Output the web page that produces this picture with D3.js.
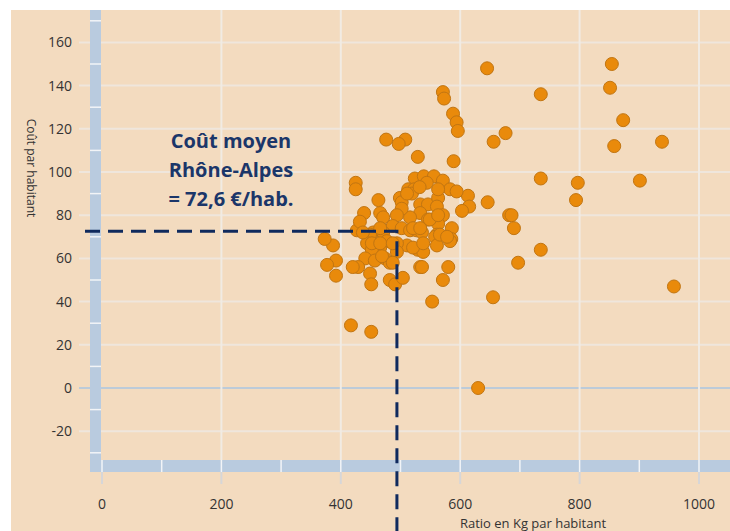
<!DOCTYPE html>
<html>
<head>
<meta charset="utf-8">
<script src="https://cdn.jsdelivr.net/npm/d3@7"></script>
<style>
  body { margin: 0; background: #fff; }
  svg { display: block; }
  text { font-family: "Open Sans", sans-serif; }
</style>
</head>
<body>
<script>
// Ratio en Kg par habitant (x) / Coût par habitant (y)
var ratio = [854, 851, 873, 858, 938, 901, 797, 794, 735, 735, 735, 958, 697, 690, 682, 686, 646, 645, 676, 656,
             655, 630, 571, 573, 588, 594, 596, 476, 508, 497, 529, 589, 425, 425, 463, 439, 613, 615, 603, 524,
             539, 556, 571, 583, 594, 513, 523, 519, 544, 499, 502, 533, 546, 563, 561, 571, 533, 516, 546, 563,
             502, 494, 466, 471, 487, 502, 516, 527, 586, 561, 536, 454, 427, 449, 471, 585, 558, 561, 511, 529,
             538, 494, 477, 466, 444, 452, 441, 457, 474, 482, 494, 429, 420, 387, 373, 392, 377, 392, 449, 451,
             482, 491, 504, 533, 580, 571, 553, 417, 451, 532, 511, 521, 533, 466, 432, 437, 452, 466, 487, 521,
             469, 487, 538, 583, 536, 566, 578, 549, 563, 563];
var cout  = [150, 139, 124, 112, 114, 96, 95, 87, 136, 97, 64, 47, 58, 74, 80, 80, 86, 148, 118, 114,
             42, 0, 137, 134, 127, 123, 119, 115, 115, 113, 107, 105, 95, 92, 87, 81, 89, 84, 82, 97,
             98, 98, 96, 92, 91, 92, 92, 90, 95, 88, 86, 85, 85, 88, 84, 80, 81, 79, 78, 76,
             83, 80, 81, 79, 75, 74, 73, 73, 74, 71, 72, 72, 73, 71, 72, 69, 70, 66, 66, 64,
             63, 67, 68, 65, 67, 64, 60, 59, 60, 58, 63, 56, 56, 66, 69, 59, 57, 52, 53, 48,
             50, 48, 51, 56, 56, 50, 40, 29, 26, 93, 90, 74, 74, 74, 77, 72, 67, 67, 67, 65,
             61, 58, 67, 68, 56, 71, 70, 78, 80, 92];

var yTicks = [-20, 0, 20, 40, 60, 80, 100, 120, 140, 160];
var xTicks = [0, 200, 400, 600, 800, 1000];
var meanCout = 72.6, meanRatio = 494;
var noteLines = ["Coût moyen", "Rhône-Alpes", "= 72,6 €/hab."];

var width = 730, height = 531;
var plotL = 101, plotR = 730, plotT = 10, plotB = 460;

var x = d3.scaleLinear().domain([0, 1000]).range([102, 699]);
var y = d3.scaleLinear().domain([0, 160]).range([388, 42.4]);

var svg = d3.select("body").append("svg")
    .attr("width", width)
    .attr("height", height);

// peach background
svg.append("rect")
    .attr("x", 11).attr("y", 10)
    .attr("width", width - 11).attr("height", height - 10)
    .attr("fill", "#f3dbbf");

svg.append("clipPath").attr("id", "plot")
  .append("rect")
    .attr("x", plotL).attr("y", plotT)
    .attr("width", plotR - plotL).attr("height", plotB - plotT);

// gridlines
svg.append("g").selectAll("line")
    .data(yTicks)
    .enter().append("line")
    .attr("x1", 79).attr("x2", plotR)
    .attr("y1", function(d) { return y(d); })
    .attr("y2", function(d) { return y(d); })
    .attr("stroke", function(d) { return d === 0 ? "#bccbd9" : "#efe6dc"; })
    .attr("stroke-width", 2);

svg.append("g").selectAll("line")
    .data(xTicks.filter(function(d) { return d > 0; }))
    .enter().append("line")
    .attr("y1", plotT).attr("y2", plotB)
    .attr("x1", function(d) { return x(d); })
    .attr("x2", function(d) { return x(d); })
    .attr("stroke", "#f1ebe3")
    .attr("stroke-width", 2);

// tick marks outside bands
svg.append("g").selectAll("line")
    .data(xTicks)
    .enter().append("line")
    .attr("y1", 472).attr("y2", 484)
    .attr("x1", function(d) { return x(d); })
    .attr("x2", function(d) { return x(d); })
    .attr("stroke", "#d6d6d8")
    .attr("stroke-width", 2);

// axis bands
svg.append("rect")
    .attr("x", 90).attr("y", plotT)
    .attr("width", 11).attr("height", 472 - plotT)
    .attr("fill", "#b9cbdf");
svg.append("rect")
    .attr("x", 90).attr("y", plotB)
    .attr("width", width - 90).attr("height", 12)
    .attr("fill", "#b9cbdf");

// notches in bands
svg.append("g").selectAll("line")
    .data(d3.range(-30, 180, 20))
    .enter().append("line")
    .attr("x1", 90).attr("x2", 101)
    .attr("y1", function(d) { return y(d); })
    .attr("y2", function(d) { return y(d); })
    .attr("stroke", "#f2f4f7")
    .attr("stroke-width", 1.5);

svg.append("g").selectAll("line")
    .data(d3.range(0, 1100, 100))
    .enter().append("line")
    .attr("y1", plotB).attr("y2", 472)
    .attr("x1", function(d) { return x(d); })
    .attr("x2", function(d) { return x(d); })
    .attr("stroke", "#f2f4f7")
    .attr("stroke-width", 1.5);

// tick labels
svg.append("g").selectAll("text")
    .data(yTicks)
    .enter().append("text")
    .attr("x", 72)
    .attr("y", function(d) { return y(d) + 5; })
    .attr("text-anchor", "end")
    .attr("font-size", 14)
    .attr("fill", "#333")
    .text(function(d) { return d; });

svg.append("g").selectAll("text")
    .data(xTicks)
    .enter().append("text")
    .attr("x", function(d) { return x(d); })
    .attr("y", 509)
    .attr("text-anchor", "middle")
    .attr("font-size", 14)
    .attr("fill", "#333")
    .text(function(d) { return d; });

// axis titles
svg.append("text")
    .attr("transform", "translate(27,168) rotate(90)")
    .attr("text-anchor", "middle")
    .attr("font-size", 12)
    .attr("fill", "#333")
    .text("Coût par habitant");

svg.append("text")
    .attr("x", 533).attr("y", 528)
    .attr("text-anchor", "middle")
    .attr("font-size", 13)
    .attr("fill", "#333")
    .text("Ratio en Kg par habitant");

// points
svg.append("g")
    .attr("clip-path", "url(#plot)")
    .selectAll("circle")
    .data(ratio)
    .enter().append("circle")
    .attr("cx", function(d) { return x(d); })
    .attr("cy", function(d, i) { return y(cout[i]); })
    .attr("r", 6.5)
    .attr("fill", "#e98a0b")
    .attr("stroke", "#c17512")
    .attr("stroke-width", 1);

// average lines
var mx = x(meanRatio), my = y(meanCout);
svg.append("path")
    .attr("d", "M85," + my + "H" + mx + "V" + height)
    .attr("fill", "none")
    .attr("stroke", "#0f2a5e")
    .attr("stroke-width", 3)
    .attr("stroke-dasharray", "15,8");

// annotation
svg.append("g").selectAll("text")
    .data(noteLines)
    .enter().append("text")
    .attr("x", 231)
    .attr("y", function(d, i) { return 148 + i * 29; })
    .attr("text-anchor", "middle")
    .attr("font-size", 20)
    .attr("font-weight", "bold")
    .attr("fill", "#1b3669")
    .text(function(d) { return d; });
</script>
</body>
</html>
